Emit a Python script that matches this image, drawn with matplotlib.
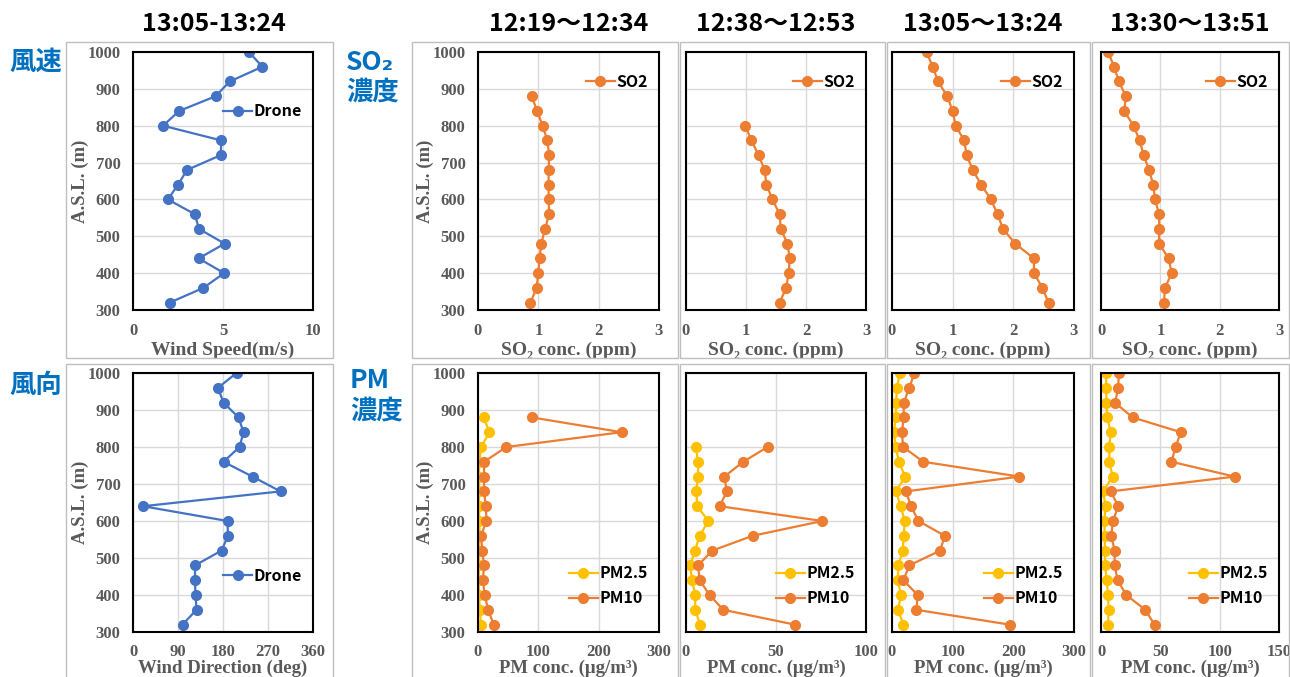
import matplotlib
matplotlib.use("Agg")
import matplotlib.pyplot as plt
from matplotlib.patches import Rectangle

W, H = 1290, 677

# ---------------- data ----------------
alt_full = [1000, 960, 920, 880, 840, 800, 760, 720, 680, 640, 600, 560, 520, 480, 440, 400, 360, 320]

wind_speed = [6.44, 7.19, 5.37, 4.59, 2.56, 1.67, 4.91, 4.87, 3.0, 2.5, 1.94, 3.43, 3.67, 5.09, 3.65, 5.06, 3.91, 2.04]
wind_dir = [207, 170, 181, 211, 221, 213, 181, 239, 295, 20, 189, 190, 177, 124, 124, 125, 127, 99]

alt_880 = alt_full[3:]
alt_800 = alt_full[5:]

so2_1219 = [0.89, 0.98, 1.07, 1.15, 1.18, 1.17, 1.17, 1.17, 1.18, 1.11, 1.05, 1.02, 1.0, 0.97, 0.87]
so2_1238 = [0.99, 1.09, 1.21, 1.31, 1.34, 1.44, 1.56, 1.58, 1.69, 1.73, 1.71, 1.67, 1.56]
so2_1305 = [0.57, 0.67, 0.76, 0.91, 1.0, 1.05, 1.19, 1.23, 1.33, 1.47, 1.63, 1.74, 1.83, 2.03, 2.34, 2.34, 2.48, 2.58]
so2_1330 = [0.12, 0.22, 0.30, 0.42, 0.39, 0.55, 0.65, 0.72, 0.81, 0.88, 0.91, 0.98, 0.98, 0.98, 1.14, 1.19, 1.08, 1.06]

pm25_1219 = [9.4, 19, 5, 2, 1.7, 1.7, 1.7, 2, 3, 1, 1.7, 1, 1.7, 3, 5]
pm10_1219 = [89, 238, 47, 10, 10, 10, 13, 14, 5, 7, 10, 8, 11, 17, 26]
pm25_1238 = [5.4, 6.7, 6.7, 5.7, 6.3, 12.4, 7.6, 5.0, 2.4, 3.3, 5.2, 5.0, 7.9]
pm10_1238 = [45.3, 31.8, 21.3, 22.7, 18.7, 75.8, 37, 14.6, 6.7, 7.6, 13.1, 20.7, 60.4]
pm25_1305 = [12.7, 8.3, 6.6, 6, 3.3, 6, 11.6, 21.5, 6.6, 14.3, 21, 19.3, 17.6, 10.5, 9.4, 14.9, 9.9, 18.7]
pm10_1305 = [36.9, 28.6, 19.3, 19.3, 16.5, 18.2, 51.7, 210, 23, 31.4, 43.5, 87, 79.3, 28.6, 18.7, 42.4, 40.2, 193.7]
pm25_1330 = [4.2, 4.5, 4.5, 5.3, 8.1, 7, 7, 9.8, 1.7, 3.9, 2.8, 3.1, 3.4, 3.4, 4.8, 5.9, 6.4, 5.9]
pm10_1330 = [14.9, 14.6, 11.8, 26.6, 67.3, 62.8, 59.4, 112.7, 8.1, 14.6, 10, 8.7, 11.5, 11.5, 14, 21.3, 37.3, 45.1]

titles = ["12:19〜12:34", "12:38〜12:53", "13:05〜13:24", "13:30〜13:51"]
wind_title = "13:05-13:24"

# ---------------- styles ----------------
BLUE = "#4472C4"
ORANGE = "#ED7D31"
YELLOW = "#FFC000"
GRAY_TXT = "#595959"
LABEL_BLUE = "#0070C0"
SERIF = ["Liberation Serif", "DejaVu Serif"]
SANS = ["Noto Sans CJK JP", "DejaVu Sans"]

plt.rcParams.update({
    "font.family": SERIF,
    "font.weight": "bold",
    "xtick.labelsize": 12,
    "ytick.labelsize": 12,
    "xtick.color": GRAY_TXT,
    "ytick.color": GRAY_TXT,
    "xtick.labelcolor": GRAY_TXT,
    "ytick.labelcolor": GRAY_TXT,
})

fig = plt.figure(figsize=(W / 100, H / 100), dpi=100)
fig.patch.set_facecolor("white")


def rect(x0, y0, x1, y1):
    return [x0 / W, 1 - y1 / H, (x1 - x0) / W, (y1 - y0) / H]


# panel frames (light gray)
frames = [(66, 42, 333, 358), (412, 42, 678, 358), (680, 42, 885, 358), (887, 42, 1090, 358),
          (1092, 42, 1289, 358),
          (66, 364, 333, 680), (412, 364, 678, 680), (680, 364, 885, 680), (887, 364, 1090, 680),
          (1092, 364, 1289, 680)]
for (x0, y0, x1, y1) in frames:
    fig.patches.append(Rectangle((x0 / W, 1 - y1 / H), (x1 - x0) / W, (y1 - y0) / H,
                                 transform=fig.transFigure, fill=False,
                                 edgecolor="#BFBFBF", linewidth=1.0))


def style_ax(ax, xmax, xticks, xlabel, show_y, bottom=False):
    ax.set_xlim(0, xmax)
    ax.set_ylim(300, 1000)
    ax.set_xticks(xticks)
    ax.set_yticks(range(300, 1001, 100))
    ax.grid(True, color="#D9D9D9", linewidth=1.0)
    ax.set_axisbelow(True)
    for s in ax.spines.values():
        s.set_color("black")
        s.set_linewidth(1.5)
    ax.tick_params(length=0, pad=9)
    if bottom:
        ax.set_xlabel(xlabel, fontweight="bold", fontsize=13.5, color=GRAY_TXT, labelpad=-0.5)
    else:
        ax.set_xlabel(xlabel, fontweight="bold", fontsize=14, color=GRAY_TXT, labelpad=2.5)
    if show_y:
        ax.set_ylabel("A.S.L. (m)", fontweight="bold", fontsize=13.5, color=GRAY_TXT)
        ax.yaxis.set_label_coords(-0.245, 0.5)
    else:
        ax.set_yticklabels([])


mk = dict(marker="o", markersize=7, linewidth=1.6)
leg_kw = dict(frameon=False, prop={"family": SANS, "weight": "bold", "size": 11.5},
              handlelength=1.8, handletextpad=0.1, borderaxespad=0.3, labelspacing=0.55)

title_kw = dict(fontsize=18, fontweight="bold", family=SANS, pad=15)

# wind speed
ax = fig.add_axes(rect(133, 52, 313, 310))
ax.plot(wind_speed, alt_full, color=BLUE, label="Drone", **mk)
style_ax(ax, 10, [0, 5, 10], "Wind Speed(m/s)", True)
ax.legend(loc="upper right", bbox_to_anchor=(1.0, 0.845), **leg_kw)
ax.set_title(wind_title, **title_kw)
ax.title.set_x(0.45)

# wind direction
ax = fig.add_axes(rect(133, 373, 313, 632))
ax.plot(wind_dir, alt_full, color=BLUE, label="Drone", **mk)
style_ax(ax, 360, [0, 90, 180, 270, 360], "Wind Direction (deg)", True, bottom=True)
ax.legend(loc="upper right", bbox_to_anchor=(1.0, 0.29), **leg_kw)

xs = [(478, 659), (686, 866), (892, 1074), (1101, 1279)]
so2_alts = [alt_880, alt_800, alt_full, alt_full]
so2_vals = [so2_1219, so2_1238, so2_1305, so2_1330]
pm_alts = [alt_880, alt_800, alt_full, alt_full]
pm25_vals = [pm25_1219, pm25_1238, pm25_1305, pm25_1330]
pm10_vals = [pm10_1219, pm10_1238, pm10_1305, pm10_1330]
pm_max = [300, 100, 300, 150]
pm_ticks = [[0, 100, 200, 300], [0, 50, 100], [0, 100, 200, 300], [0, 50, 100, 150]]

for i in range(4):
    x0, x1 = xs[i]
    ax = fig.add_axes(rect(x0, 52, x1, 310))
    ax.plot(so2_vals[i], so2_alts[i], color=ORANGE, label="SO2", **mk)
    style_ax(ax, 3, [0, 1, 2, 3], "SO₂ conc. (ppm)", i == 0)
    ax.legend(loc="upper right", bbox_to_anchor=(1.0, 0.96), **leg_kw)
    ax.set_title(titles[i], **title_kw)

    ax = fig.add_axes(rect(x0, 373, x1, 632))
    ax.plot(pm25_vals[i], pm_alts[i], color=YELLOW, label="PM2.5", **mk)
    ax.plot(pm10_vals[i], pm_alts[i], color=ORANGE, label="PM10", **mk)
    style_ax(ax, pm_max[i], pm_ticks[i], "PM conc. (μg/m³)", i == 0, bottom=True)
    ax.legend(loc="upper right", bbox_to_anchor=(1.0, 0.30), **leg_kw)

# blue side labels
side_kw = dict(family=SANS, fontweight="bold", fontsize=19, color=LABEL_BLUE, va="center", ha="left")
fig.text(9 / W, 1 - 62 / H, "風速", **side_kw)
fig.text(9 / W, 1 - 385 / H, "風向", **side_kw)
fig.text(346 / W, 1 - 62 / H, "SO₂", **side_kw)
fig.text(346 / W, 1 - 92 / H, "濃度", **side_kw)
fig.text(350 / W, 1 - 381 / H, "PM", **side_kw)
fig.text(350 / W, 1 - 411 / H, "濃度", **side_kw)

fig.savefig("out.png", dpi=100, facecolor="white")
